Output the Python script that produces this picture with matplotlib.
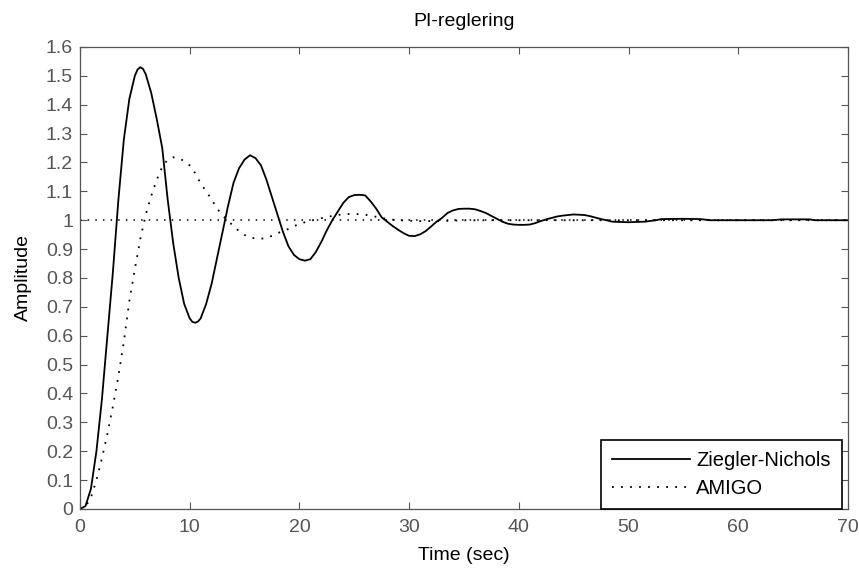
import matplotlib
matplotlib.use('Agg')
import matplotlib.pyplot as plt

plt.rcParams['font.family'] = ['Liberation Sans', 'DejaVu Sans']

# step response
zn_t = [0, 0.5, 1.0, 1.5, 2.0, 2.5, 3.0, 3.5, 4.0, 4.5, 5.0, 5.25, 5.5, 5.75,
        6.0, 6.5, 7.0, 7.5, 8.0, 8.5, 9.0, 9.5, 10.0, 10.25, 10.5, 10.75, 11.0,
        11.5, 12.0, 12.5, 13.0, 13.5, 14.0, 14.5, 15.0, 15.5, 16.0, 16.5, 17.0,
        17.5, 18.0, 18.5, 19.0, 19.5, 20.0, 20.5, 21.0, 21.5, 22.0, 22.5, 23.0,
        23.5, 24.0, 24.5, 25.0, 25.5, 26.0, 26.5, 27.0, 27.5, 28.0, 28.5, 29.0,
        29.5, 30.0, 30.5, 31.0, 31.5, 32.0, 32.5, 33.0, 33.5, 34.0, 34.5, 35.0,
        35.5, 36.0, 36.5, 37.0, 37.5, 38.0, 38.5, 39.0, 39.5, 40.0, 40.5, 41.0,
        41.5, 42.0, 42.5, 43.0, 43.5, 44.0, 45.0, 46.0, 46.5, 47.0, 47.5, 48.0,
        48.5, 50.0, 51.5, 52.5, 53.0, 55.0, 56.5, 57.5, 60.0, 63.0, 64.0, 66.5,
        67.0, 70.0]
zn_y = [0, 0.01, 0.07, 0.20, 0.38, 0.60, 0.82, 1.07, 1.28, 1.42, 1.50, 1.522,
        1.53, 1.524, 1.505, 1.44, 1.35, 1.25, 1.07, 0.92, 0.80, 0.71, 0.66,
        0.648, 0.645, 0.649, 0.66, 0.71, 0.78, 0.87, 0.96, 1.05, 1.13, 1.18,
        1.21, 1.225, 1.215, 1.19, 1.14, 1.08, 1.02, 0.96, 0.91, 0.88, 0.865,
        0.86, 0.865, 0.89, 0.925, 0.965, 1.0, 1.03, 1.06, 1.08, 1.087, 1.088,
        1.086, 1.065, 1.04, 1.01, 0.995, 0.98, 0.967, 0.955, 0.946, 0.945,
        0.951, 0.962, 0.978, 0.995, 1.008, 1.025, 1.034, 1.039, 1.04, 1.04,
        1.038, 1.032, 1.025, 1.015, 1.005, 0.995, 0.988, 0.985, 0.984, 0.984,
        0.985, 0.99, 0.997, 1.003, 1.008, 1.013, 1.016, 1.02, 1.018, 1.014,
        1.009, 1.004, 1.0, 0.995, 0.993, 0.995, 1.0, 1.004, 1.005, 1.004, 1.0,
        1.0, 1.0, 1.003, 1.003, 1.0, 1.0]

amigo_t = [0, 0.5, 1.0, 1.5, 2.0, 2.5, 3.0, 3.5, 4.0, 4.5, 5.0, 5.5, 6.0, 6.5,
           7.0, 7.5, 8.0, 8.5, 9.0, 9.5, 10.0, 10.5, 11.0, 11.5, 12.0, 12.5,
           13.0, 13.5, 14.0, 14.5, 15.0, 15.5, 16.0, 16.5, 17.0, 17.5, 18.0,
           19.0, 20.0, 21.0, 22.0, 23.0, 24.0, 25.0, 26.0, 27.0, 28.0, 29.0,
           31.0, 33.0, 35.0, 70.0]
amigo_y = [0, 0.008, 0.04, 0.10, 0.175, 0.26, 0.355, 0.46, 0.58, 0.72, 0.83,
           0.935, 1.02, 1.085, 1.14, 1.185, 1.21, 1.218, 1.215, 1.205, 1.19,
           1.163, 1.128, 1.10, 1.072, 1.04, 1.017, 0.997, 0.98, 0.962, 0.949,
           0.94, 0.937, 0.936, 0.938, 0.946, 0.955, 0.97, 0.988, 0.998, 1.007,
           1.015, 1.021, 1.022, 1.019, 1.012, 1.004, 1.0, 0.997, 0.997, 1.0, 1.0]

final_value = 1.0
x_ticks = [0, 10, 20, 30, 40, 50, 60, 70]
y_ticks = [0, 0.1, 0.2, 0.3, 0.4, 0.5, 0.6, 0.7, 0.8, 0.9, 1, 1.1, 1.2, 1.3, 1.4, 1.5, 1.6]

fig = plt.figure(figsize=(8.59, 5.68), dpi=100)
ax = fig.add_axes([0.0931, 0.1039, 0.894, 0.8134])

dots = (0, (1, 4))
ax.plot(zn_t, zn_y, color='black', lw=1.3, label='Ziegler-Nichols')
ax.plot(amigo_t, amigo_y, color='black', lw=1.3, linestyle=dots, label='AMIGO')
ax.axhline(final_value, color='black', lw=1.1, linestyle=dots)

ax.set_xlim(0, 70)
ax.set_ylim(0, 1.6)
ax.set_xticks(x_ticks)
ax.set_yticks(y_ticks)
ax.set_yticklabels([f'{v:g}' for v in y_ticks])

ax.tick_params(direction='in', top=True, right=True, length=5, width=0.8,
               labelsize=14, colors='#555555', labelcolor='#555555')
ax.tick_params(axis='x', pad=7)
ax.tick_params(axis='y', pad=5)
for s in ax.spines.values():
    s.set_color('#555555')
    s.set_linewidth(0.9)

ax.set_title('PI-reglering', fontsize=14, pad=15)
ax.set_xlabel('Time (sec)', fontsize=14, labelpad=8)
ax.set_ylabel('Amplitude', fontsize=14, labelpad=10)

leg = ax.legend(loc='lower right', bbox_to_anchor=(0.992, 0.0), fontsize=14.5,
                frameon=True, fancybox=False, framealpha=1, edgecolor='black',
                handlelength=3.9, handletextpad=0.3, labelspacing=0.45,
                borderaxespad=0, borderpad=0.55)
leg.get_frame().set_linewidth(1.2)

plt.savefig('out.png', dpi=100)
